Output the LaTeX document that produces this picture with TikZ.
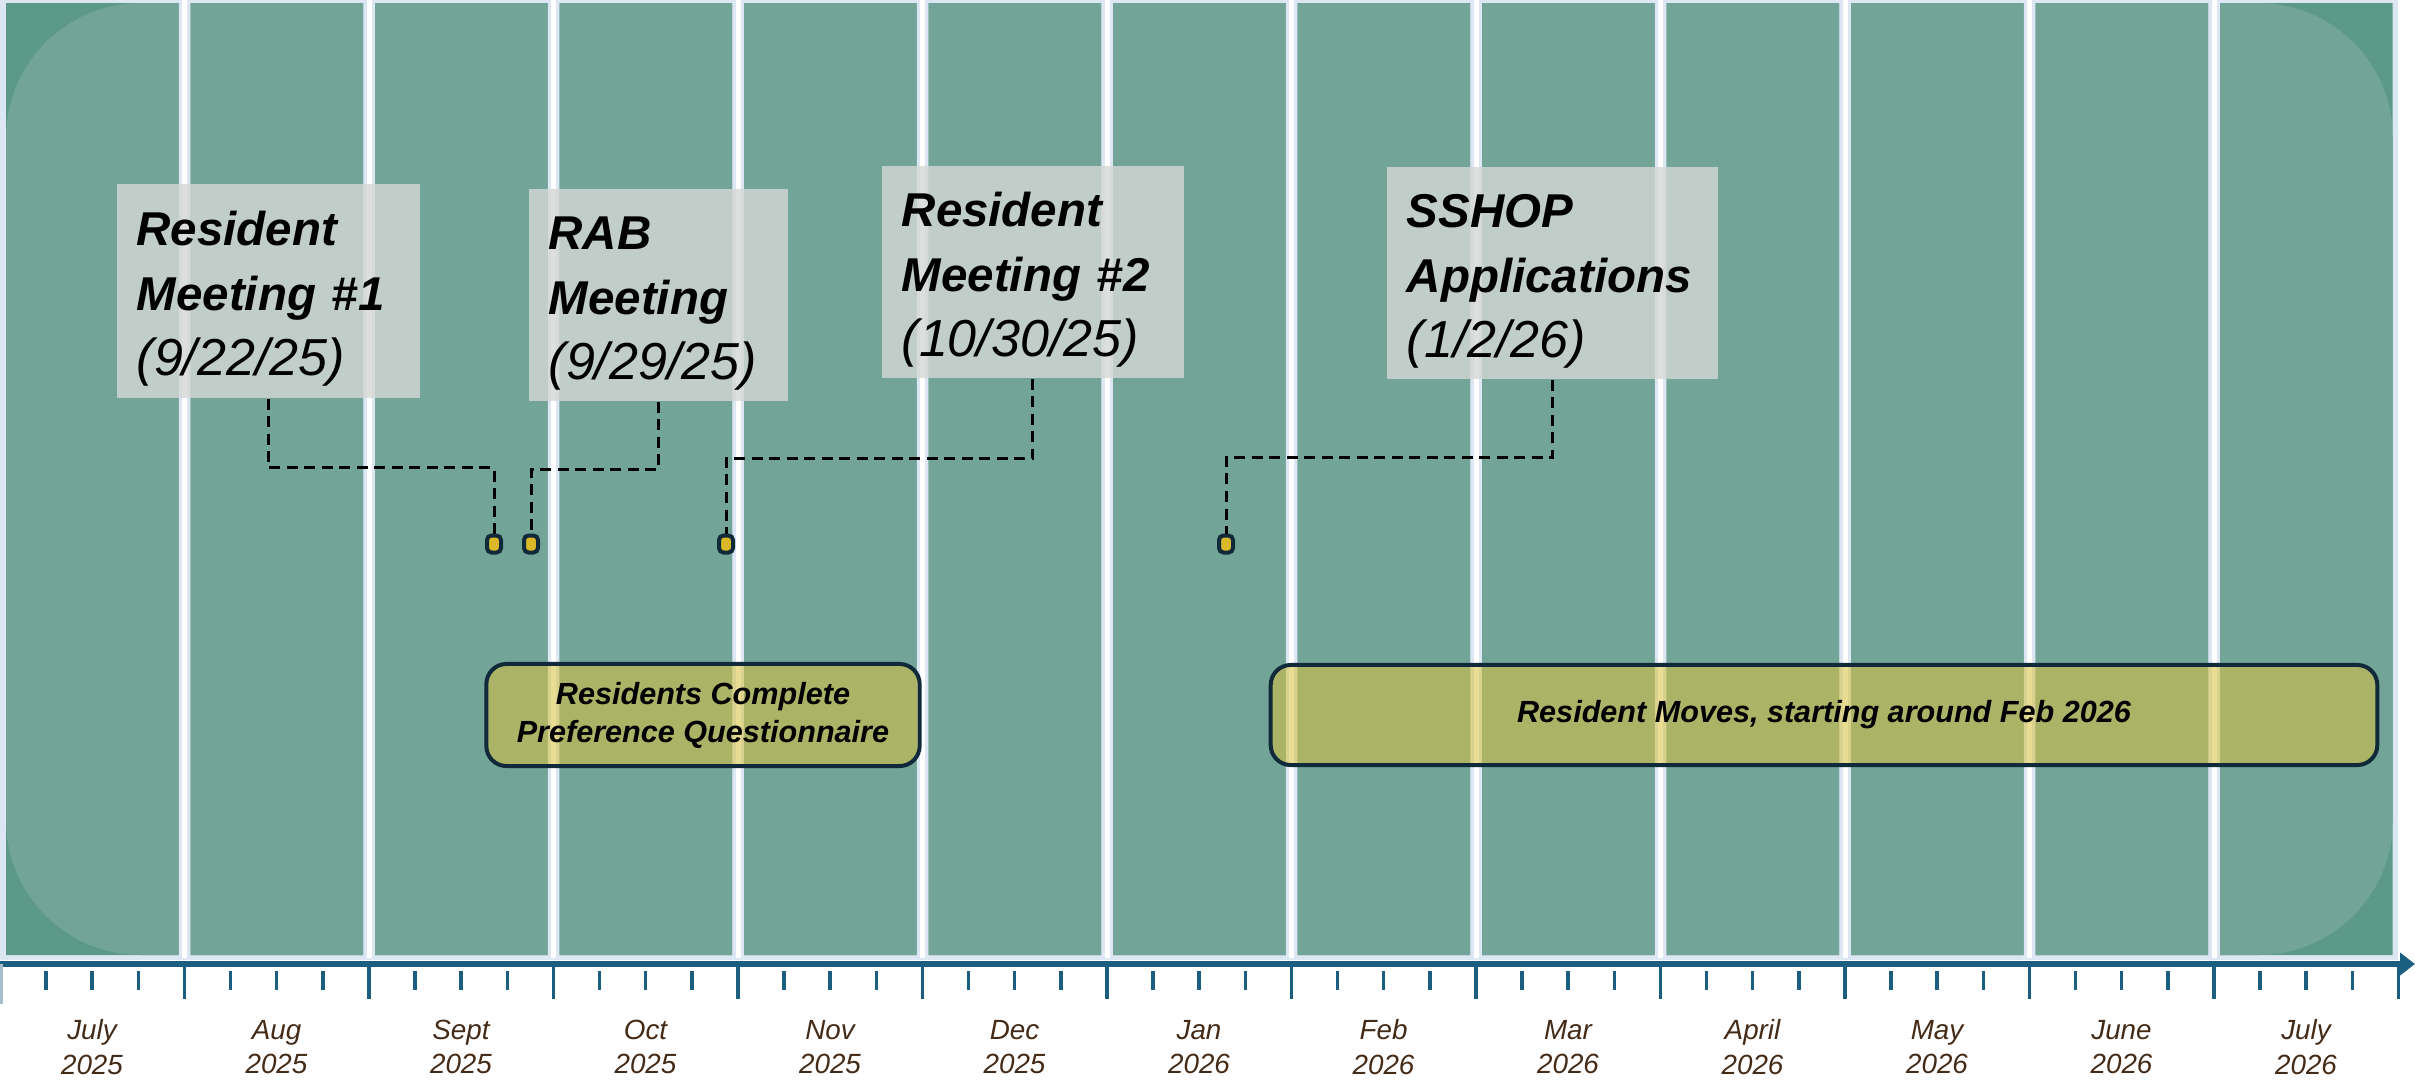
\documentclass[tikz,border=0pt]{standalone}
\usepackage{fontspec}
\setmainfont{Liberation Sans}
\usepackage{xcolor}
\usepackage{tikz}
\usetikzlibrary{calc, positioning, arrows.meta}

\definecolor{tealdark}{RGB}{92,153,137}
\definecolor{teallight}{RGB}{114,165,152}
\definecolor{gapblue}{RGB}{220,231,243}
\definecolor{axisblue}{RGB}{27,94,128}
\definecolor{navy}{RGB}{16,42,58}
\definecolor{gold}{RGB}{216,193,64}
\definecolor{dotgold}{RGB}{218,184,40}
\definecolor{notegray}{RGB}{213,215,212}
\definecolor{monthbrown}{RGB}{67,43,23}

\newcommand\ttl[1]{\textbf{\textit{#1}}}
\newcommand\dte[1]{{\fontsize{14.8}{18.5}\selectfont\itshape #1}}

\tikzset{
  notebox/.style={fill=notegray, fill opacity=0.8, text opacity=1, anchor=north west, inner xsep=0.2cm, inner ysep=0pt, align=left, font=\fontsize{13.5}{18.5}\selectfont, execute at begin node={\rule{0pt}{14.5pt}}},
  spanbox/.style={draw=navy, line width=0.04cm, rounded corners=0.2cm, fill=gold, fill opacity=0.56, draw opacity=1, text opacity=1, align=center, font=\fontsize{8.7}{10.8}\selectfont\bfseries\itshape},
  datemark/.style={draw=navy, fill=dotgold, line width=0.04cm, rounded corners=0.045cm, minimum width=0.14cm, minimum height=0.17cm, inner sep=0pt},
  leader/.style={dash pattern=on 0.11cm off 0.065cm, line width=0.03cm},
  monthlbl/.style={align=center, text=monthbrown, font=\fontsize{7.9}{9.9}\selectfont\itshape},
}

\begin{document}
\begin{tikzpicture}[x=0.01cm, y=-0.01cm]
  \useasboundingbox (0,0) rectangle (2415,1081);

  % month columns
  \fill[gapblue] (0,0) rectangle (2398,960);
  \begin{scope}
    \clip \foreach \k in {0,...,12} {(6+184.5*\k,3) rectangle ++(172.5,952)};
    \fill[tealdark] (0,0) rectangle (2400,960);
    \fill[teallight, rounded corners=1.35cm] (6,3) rectangle (2393,955);
  \end{scope}
  \foreach \k in {1,...,12} \draw[white, line width=0.05cm] (184.5*\k,0) -- (184.5*\k,958);

  % time axis
  \draw[axisblue, line width=0.065cm, -{Triangle[length=0.15cm, width=0.22cm]}] (0,964) -- (2415,964);
  \draw[axisblue!40, line width=0.03cm] (1,964) -- ++(0,40);
  \foreach \k in {1,...,13} \draw[axisblue, line width=0.035cm] (184.5*\k,964) -- ++(0,35);
  \foreach \k in {0,...,12} \foreach \j in {1,2,3} \draw[axisblue, line width=0.035cm] (184.5*\k+46.1*\j,971) -- ++(0,19);

  \foreach \mon/\yr [count=\k from 0] in {July/2025, Aug/2025, Sept/2025, Oct/2025, Nov/2025, Dec/2025, Jan/2026, Feb/2026, Mar/2026, April/2026, May/2026, June/2026, July/2026}
    \node[monthlbl] (mon\k) at (184.5*\k+92,1047) {\mon\\\yr};

  % meetings
  \node[notebox, text width=2.63cm, minimum height=2.14cm] (rm1) at (116,183) {\ttl{Resident}\\\ttl{Meeting \#1}\\\dte{(9/22/25)}};
  \node[notebox, text width=2.19cm, minimum height=2.12cm] (rab) at (528,188) {\ttl{RAB}\\\ttl{Meeting}\\\dte{(9/29/25)}};
  \node[notebox, text width=2.62cm, minimum height=2.12cm] (rm2) at (881,165) {\ttl{Resident}\\\ttl{Meeting \#2}\\\dte{(10/30/25)}};
  \node[notebox, text width=2.91cm, minimum height=2.12cm] (sshop) at (1386,166) {\ttl{SSHOP}\\\ttl{Applications}\\\dte{(1/2/26)}};

  \node[datemark] (d1) at (494,544) {};
  \node[datemark] (d2) at (531,544) {};
  \node[datemark] (d3) at (726,544) {};
  \node[datemark] (d4) at (1226,544) {};

  \draw[leader] (rm1.south) -- ++(0,69) -| (d1.north);
  \draw[leader] (rab.south) -- ++(0,68) -| (d2.north);
  \draw[leader] (rm2.south) -- ++(0,80) -| (d3.north);
  \draw[leader] (sshop.south) -- ++(0,78) -| (d4.north);

  % spans
  \node[spanbox, minimum width=4.33cm, minimum height=1.02cm] (quest) at (703,715) {Residents Complete\\Preference Questionnaire};
  \node[spanbox, minimum width=11.06cm, minimum height=1.0cm] (moves) at (1824,715) {Resident Moves, starting around Feb 2026};
\end{tikzpicture}
\end{document}
